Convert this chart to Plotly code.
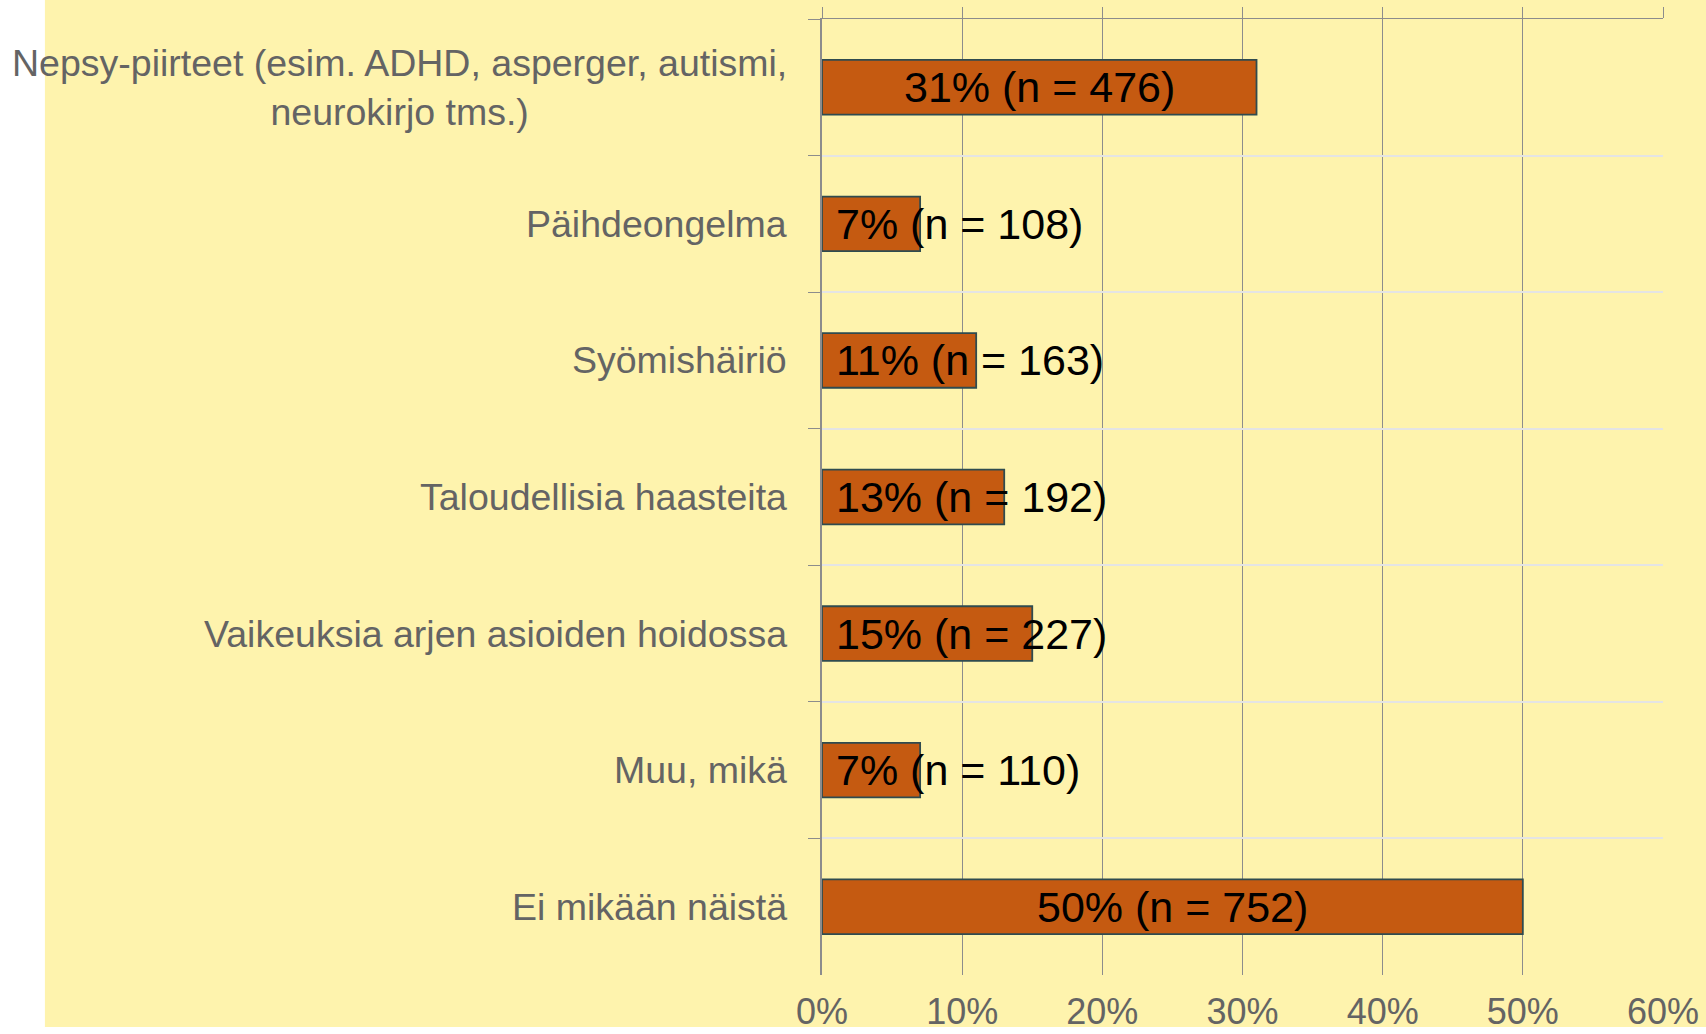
import plotly.graph_objects as go

# Data
categories = ["Nepsy-piirteet (esim. ADHD, asperger, autismi, neurokirjo tms.)",
              "Päihdeongelma", "Syömishäiriö", "Taloudellisia haasteita",
              "Vaikeuksia arjen asioiden hoidossa", "Muu, mikä", "Ei mikään näistä"]
labels = ["Nepsy-piirteet (esim. ADHD, asperger, autismi,<br>neurokirjo tms.)",
          "Päihdeongelma", "Syömishäiriö", "Taloudellisia haasteita",
          "Vaikeuksia arjen asioiden hoidossa", "Muu, mikä", "Ei mikään näistä"]
percents = [31, 7, 11, 13, 15, 7, 50]
counts = [476, 108, 163, 192, 227, 110, 752]
x_ticks = [0, 10, 20, 30, 40, 50, 60]

FONT = "Liberation Sans, Arial, sans-serif"
GRID = "#8c8c8c"
LABEL = "#646464"

fig = go.Figure()
fig.add_trace(go.Bar(
    x=percents, y=categories, orientation="h", width=0.4,
    marker=dict(color="#c55a11", line=dict(color="#2f4b4f", width=1.8)),
    hoverinfo="skip", showlegend=False,
))
# invisible helper so the top axis (tick stubs + top line) gets drawn
fig.add_trace(go.Scatter(
    x=percents, y=categories, xaxis="x2", mode="markers",
    marker=dict(opacity=0), hoverinfo="skip", showlegend=False,
))

annotations = []
for cat, lab, p, n in zip(categories, labels, percents, counts):
    # category label, centred lines, right edge near the axis
    annotations.append(dict(
        x=0, xref="paper", xanchor="right", xshift=-33,
        y=cat, yref="y", text=lab, align="center", showarrow=False,
        font=dict(family=FONT, size=37.5, color=LABEL),
    ))
    # value label: centred if it fits in the bar, else starts at the bar base
    txt = f"{p}% (n = {n})"
    if p >= 25:
        annotations.append(dict(x=p / 2, y=cat, xref="x", yref="y", text=txt,
                                xanchor="center", showarrow=False,
                                font=dict(family=FONT, size=43, color="black")))
    else:
        annotations.append(dict(x=0, y=cat, xref="x", yref="y", text=txt,
                                xanchor="left", xshift=12, showarrow=False,
                                font=dict(family=FONT, size=43, color="black")))

fig.update_layout(
    width=1706, height=1034,
    margin=dict(l=822, r=43, t=19, b=59),
    paper_bgcolor="white",
    plot_bgcolor="rgba(0,0,0,0)",
    font=dict(family=FONT),
    annotations=annotations,
    shapes=[dict(type="rect", xref="paper", yref="paper", layer="below",
                 x0=-0.924, x1=1.06, y0=-0.0544, y1=1.03,
                 fillcolor="#fef3ad", line=dict(width=0))],
    xaxis=dict(
        range=[0, 60], tickvals=x_ticks, ticktext=[f"{v}%" for v in x_ticks],
        showgrid=True, gridcolor=GRID, gridwidth=1, zeroline=False,
        showline=False, ticks="", automargin=False, ticklabelstandoff=12,
        tickfont=dict(family=FONT, size=36, color=LABEL),
    ),
    xaxis2=dict(
        overlaying="x", side="top", matches="x", range=[0, 60],
        tickvals=x_ticks, showticklabels=False, showgrid=False, zeroline=False,
        ticks="outside", ticklen=11, tickcolor=GRID, tickwidth=1,
        showline=True, linecolor=GRID, linewidth=1, automargin=False,
    ),
    yaxis=dict(
        categoryorder="array", categoryarray=categories, autorange="reversed",
        tickson="boundaries", ticks="outside", ticklen=12, tickcolor=GRID,
        showgrid=True, gridcolor="#e4e4e4", gridwidth=2,
        showline=True, linecolor=GRID, linewidth=1.5,
        showticklabels=False, automargin=False,
    ),
)

# drop the default 8px page margin so the figure sits at the window corner
fig.write_html("out.html", config={"displayModeBar": False},
               post_script="document.body.style.margin='0';")
